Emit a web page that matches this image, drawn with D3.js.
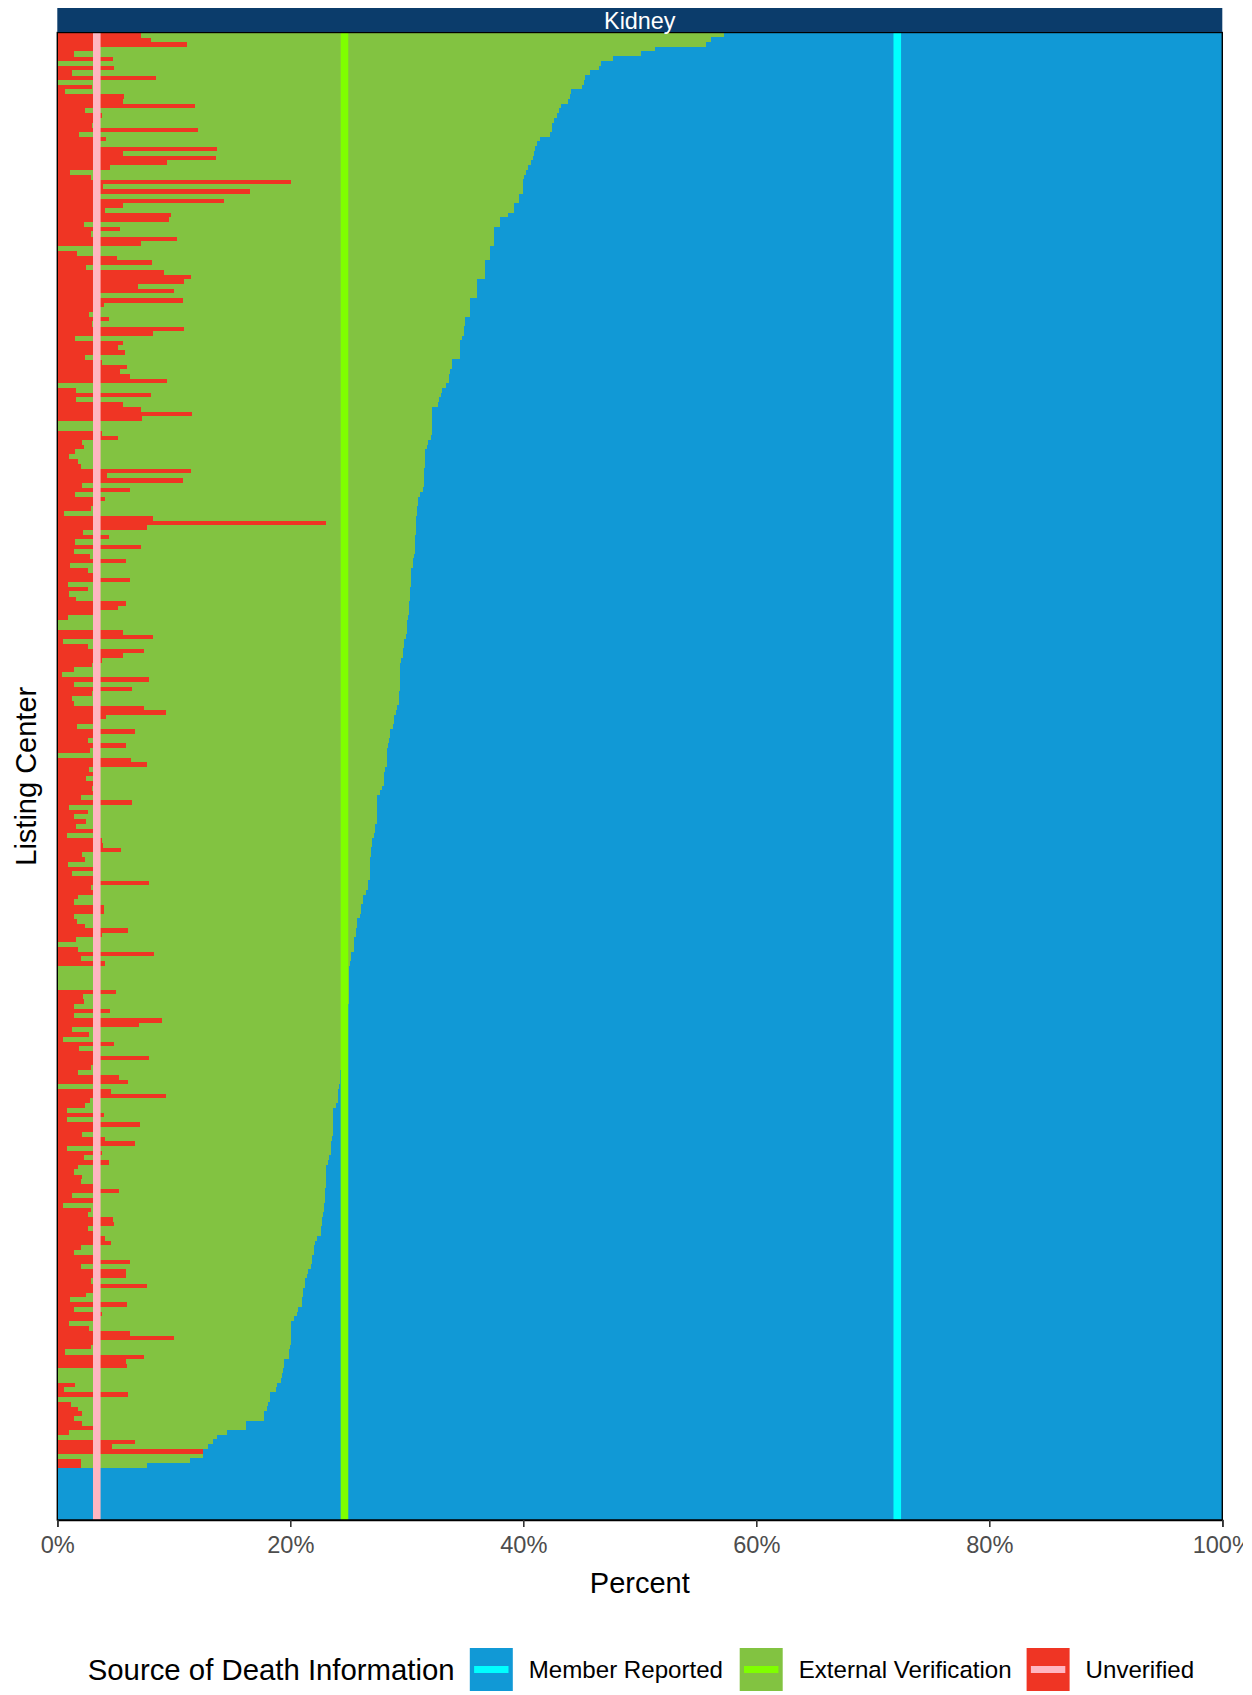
<!DOCTYPE html>
<html>
<head>
<meta charset="utf-8">
<script src="https://cdn.jsdelivr.net/npm/d3@7"></script>
<style>
  body { margin: 0; background: #ffffff; }
  svg text { font-family: "Liberation Sans", Arial, Helvetica, sans-serif; }
</style>
</head>
<body>
<svg id="chart" width="1252" height="1695"></svg>
<script>
// Source categories, fill colours and the colours of the overall reference lines
const sources = ["Member Reported", "External Verification", "Unverified"];
const sourceKeys = ["member", "external", "unverified"];
const fillColors = ["#1199D6", "#82C341", "#EF3524"];
const lineColors = ["#00FFFF", "#7FFF00", "#FFB6C1"];
// Overall share of each source across all centers (%)
const overallPct = [72.1, 24.65, 3.39];

// Per-center share of deaths that are unverified (%), centers ordered top to bottom
const unverifiedPct = [
  7.2, 8.0, 11.1, 3.2, 1.4, 4.8, 0, 4.9, 1.3, 8.5,
  0, 3.0, 0.7, 5.7, 5.6, 11.8, 2.4, 3.8, 3.3, 3.0,
  12.1, 1.9, 4.2, 3.2, 13.7, 5.6, 13.6, 9.4, 4.5, 1.1,
  2.9, 20.1, 3.9, 16.5, 3.7, 14.3, 5.6, 4.1, 9.8, 9.6,
  2.3, 5.4, 2.9, 10.3, 7.2, 0, 1.7, 5.1, 8.1, 2.5,
  9.2, 11.5, 10.9, 6.9, 10.0, 3.2, 10.8, 4.0, 3.3, 2.7,
  4.4, 3.0, 10.9, 8.2, 1.5, 5.6, 5.2, 5.8, 2.4, 3.8,
  6.0, 5.4, 6.2, 9.4, 0, 1.6, 8.0, 1.6, 5.6, 7.2,
  11.6, 7.3, 0, 0, 3.8, 5.2, 2.1, 2.3, 1.5, 1.0,
  1.8, 2.0, 11.5, 4.3, 10.8, 2.1, 6.2, 1.5, 4.1, 3.1,
  2.9, 0.6, 8.2, 23.1, 7.7, 2.2, 4.4, 1.5, 7.2, 1.4,
  2.8, 5.9, 1.1, 2.6, 3.1, 6.2, 0.9, 2.6, 1.0, 1.6,
  5.9, 5.2, 3.1, 0.9, 0, 0, 5.6, 8.2, 0.5, 2.6,
  7.4, 5.6, 3.8, 3.0, 1.4, 0.4, 7.9, 1.4, 6.4, 3.0,
  1.3, 1.4, 7.4, 9.3, 4.2, 3.2, 1.7, 6.7, 3.1, 2.6,
  5.9, 2.8, 0, 6.3, 7.7, 2.7, 3.1, 2.5, 3.2, 3.0,
  3.1, 2.0, 6.4, 1.0, 2.6, 1.4, 2.5, 1.6, 3.1, 0.8,
  3.8, 3.9, 5.5, 2.1, 2.4, 0.9, 3.1, 1.3, 3.1, 7.9,
  2.9, 3.1, 1.8, 1.4, 4.0, 4.0, 1.4, 1.7, 2.4, 6.1,
  3.8, 1.6, 0, 1.8, 8.3, 2.0, 4.1, 0, 0, 0,
  0, 0, 5.0, 2.2, 2.3, 1.4, 4.5, 1.4, 9.0, 7.0,
  1.3, 2.7, 0.5, 4.9, 1.9, 3.1, 7.9, 3.1, 2.9, 1.8,
  5.3, 6.1, 0, 4.6, 9.3, 2.8, 2.4, 0.8, 4.0, 0.8,
  7.1, 3.1, 2.1, 4.1, 6.7, 0.8, 3.8, 2.3, 4.4, 1.8,
  1.4, 2.1, 2.0, 3.1, 5.3, 1.3, 3.1, 0.5, 2.9, 2.6,
  4.8, 4.9, 2.6, 3.1, 4.1, 4.6, 2.0, 1.4, 3.1, 6.2,
  2.0, 5.9, 5.9, 2.9, 7.7, 3.1, 2.5, 1.1, 6.0, 1.4,
  3.8, 3.1, 1.0, 2.7, 6.2, 10.0, 3.1, 2.9, 0.7, 7.4,
  5.9, 6.0, 0, 0, 0, 1.5, 0.6, 6.1, 0, 1.2,
  1.8, 2.1, 1.4, 2.1, 3.1, 1.0, 0, 6.7, 4.7, 12.5,
  0, 2.0, 2.0, 0, 0, 0, 0, 0, 0, 0,
  0, 0, 0, 0
];

// Per-center share of deaths not reported by the member (unverified + external), %
const nonMemberPct = [
  57.2, 56.1, 55.7, 51.3, 50.1, 47.7, 46.7, 46.5, 45.7, 45.3,
  45.2, 45.0, 44.1, 44.0, 43.8, 43.2, 43.1, 42.9, 42.6, 42.5,
  42.5, 42.3, 41.4, 41.2, 41.0, 40.9, 40.8, 40.7, 40.4, 40.2,
  40.1, 40.0, 40.0, 40.0, 39.6, 39.6, 39.2, 39.2, 38.7, 38.0,
  38.0, 37.5, 37.5, 37.5, 37.5, 37.1, 37.1, 37.1, 36.7, 36.7,
  36.7, 36.7, 36.0, 36.0, 36.0, 36.0, 35.4, 35.4, 35.4, 35.4,
  35.0, 35.0, 34.9, 34.9, 34.7, 34.6, 34.6, 34.6, 34.6, 33.9,
  33.9, 33.7, 33.6, 33.6, 33.4, 33.0, 32.9, 32.8, 32.7, 32.2,
  32.2, 32.2, 32.2, 32.2, 32.2, 32.1, 31.8, 31.7, 31.6, 31.6,
  31.6, 31.6, 31.5, 31.5, 31.5, 31.5, 31.4, 31.1, 31.0, 31.0,
  30.9, 30.9, 30.8, 30.8, 30.8, 30.8, 30.7, 30.7, 30.7, 30.7,
  30.6, 30.5, 30.5, 30.4, 30.4, 30.4, 30.4, 30.3, 30.3, 30.3,
  30.2, 30.2, 30.2, 30.1, 30.0, 30.0, 30.0, 29.9, 29.8, 29.8,
  29.7, 29.7, 29.5, 29.4, 29.4, 29.4, 29.4, 29.4, 29.4, 29.3,
  29.3, 29.3, 29.2, 29.1, 28.9, 28.9, 28.8, 28.6, 28.6, 28.5,
  28.4, 28.3, 28.3, 28.3, 28.3, 28.1, 28.0, 28.0, 28.0, 27.9,
  27.7, 27.4, 27.4, 27.4, 27.4, 27.4, 27.4, 27.3, 27.3, 27.2,
  27.0, 27.0, 26.9, 26.9, 26.8, 26.8, 26.8, 26.8, 26.8, 26.7,
  26.7, 26.5, 26.2, 26.2, 26.1, 26.1, 26.0, 25.7, 25.7, 25.6,
  25.6, 25.5, 25.5, 25.5, 25.2, 25.2, 25.1, 25.0, 25.0, 25.0,
  25.0, 25.0, 25.0, 25.0, 25.0, 24.95, 24.95, 24.95, 24.95, 24.95,
  24.95, 24.9, 24.9, 24.8, 24.8, 24.8, 24.8, 24.7, 24.7, 24.3,
  24.3, 24.3, 24.2, 24.1, 24.1, 24.1, 23.9, 23.7, 23.7, 23.7,
  23.7, 23.7, 23.7, 23.6, 23.5, 23.5, 23.5, 23.3, 23.2, 23.1,
  23.1, 23.1, 23.1, 23.1, 23.0, 23.0, 23.0, 22.9, 22.9, 22.8,
  22.7, 22.7, 22.6, 22.6, 22.3, 22.1, 22.0, 22.0, 21.9, 21.9,
  21.8, 21.5, 21.4, 21.3, 21.3, 21.1, 21.1, 21.0, 21.0, 20.7,
  20.6, 20.3, 20.1, 20.1, 20.1, 20.1, 20.1, 20.0, 19.9, 19.9,
  19.5, 19.5, 19.4, 19.3, 19.2, 18.9, 18.8, 18.3, 18.3, 18.1,
  18.0, 17.7, 17.7, 16.2, 16.2, 14.6, 13.7, 13.4, 12.9, 12.5,
  12.5, 11.4, 7.7, 0, 0, 0, 0, 0, 0, 0,
  0, 0, 0, 0
];

const xTicks = [0, 20, 40, 60, 80, 100];
const panelTitle = "Kidney";
const xTitle = "Percent";
const yTitle = "Listing Center";
const legendTitle = "Source of Death Information";

// Build one record per listing center
const centers = unverifiedPct.map((_, i) => "Center " + (i + 1));
const rows = centers.map((c, i) => ({
  center: c,
  unverified: unverifiedPct[i],
  external: nonMemberPct[i] - unverifiedPct[i],
  member: 100 - nonMemberPct[i]
}));

const svg = d3.select("#chart");
const panel = { left: 57.3, right: 1222.3, top: 32.5, bottom: 1520 };

// The drawing area ends a few pixels short of the page's right edge
svg.append("defs").append("clipPath").attr("id", "page-clip")
  .append("rect").attr("x", 0).attr("y", 0).attr("width", 1243).attr("height", 1695);

const x = d3.scaleLinear().domain([0, 100]).range([panel.left, panel.right]);
const y = d3.scaleBand().domain(centers).range([panel.top, panel.bottom]).padding(0);
const color = d3.scaleOrdinal().domain(sourceKeys).range(fillColors);
const lineColor = d3.scaleOrdinal().domain(sourceKeys).range(lineColors);

// Stacked 100% bars: unverified from 0, then external verification, then member reported
const stack = d3.stack().keys(["unverified", "external", "member"]);
const series = stack(rows);

const barG = svg.append("g").attr("shape-rendering", "crispEdges");
barG.selectAll("g")
  .data(series)
  .join("g")
  .attr("fill", s => color(s.key))
  .selectAll("rect")
  .data(s => s.filter(d => d[1] - d[0] > 0))
  .join("rect")
  .attr("x", d => x(d[0]))
  .attr("width", d => x(d[1]) - x(d[0]))
  .attr("y", d => y(d.data.center))
  .attr("height", y.bandwidth() + 0.4);

// Overall reference lines for each source
svg.append("g")
  .selectAll("line")
  .data(sourceKeys.map((k, i) => ({ key: k, value: overallPct[i] })))
  .join("line")
  .attr("x1", d => x(d.value))
  .attr("x2", d => x(d.value))
  .attr("y1", panel.top)
  .attr("y2", panel.bottom)
  .attr("stroke", d => lineColor(d.key))
  .attr("stroke-width", 7.6);

// Panel border
svg.append("rect")
  .attr("x", panel.left)
  .attr("y", panel.top)
  .attr("width", panel.right - panel.left)
  .attr("height", panel.bottom - panel.top)
  .attr("fill", "none")
  .attr("stroke", "#000000")
  .attr("stroke-width", 1.4);

// Facet strip
svg.append("rect")
  .attr("x", panel.left)
  .attr("y", 8)
  .attr("width", panel.right - panel.left)
  .attr("height", 24)
  .attr("fill", "#0B3C6B");
svg.append("text")
  .attr("x", (panel.left + panel.right) / 2)
  .attr("y", 29)
  .attr("text-anchor", "middle")
  .attr("fill", "#ffffff")
  .attr("font-size", 23.4)
  .text(panelTitle);

// X axis
const xAxis = d3.axisBottom(x)
  .tickValues(xTicks)
  .tickFormat(d => d + "%")
  .tickSize(7)
  .tickPadding(9);
const axG = svg.append("g")
  .attr("clip-path", "url(#page-clip)")
  .append("g")
  .attr("transform", `translate(0,${panel.bottom})`)
  .call(xAxis);
axG.select(".domain").attr("stroke", "#000000").attr("stroke-width", 1.6);
axG.selectAll(".tick line").attr("stroke", "#333333").attr("stroke-width", 1.6);
axG.selectAll(".tick text")
  .attr("fill", "#4D4D4D")
  .attr("font-size", 23.6)
  .attr("font-family", "Liberation Sans, Arial, sans-serif");

// Axis titles
svg.append("text")
  .attr("x", (panel.left + panel.right) / 2)
  .attr("y", 1593)
  .attr("text-anchor", "middle")
  .attr("font-size", 29)
  .attr("fill", "#000000")
  .text(xTitle);
svg.append("text")
  .attr("transform", `translate(36,${(panel.top + panel.bottom) / 2}) rotate(-90)`)
  .attr("text-anchor", "middle")
  .attr("font-size", 29)
  .attr("fill", "#000000")
  .text(yTitle);

// Legend
const legend = svg.append("g");
legend.append("text")
  .attr("x", 87.7)
  .attr("y", 1680)
  .attr("font-size", 29.35)
  .attr("fill", "#000000")
  .text(legendTitle);
const keyX = [469.8, 739.7, 1026.6];
const keySize = 43;
const items = legend.selectAll("g.item")
  .data(sourceKeys.map((k, i) => ({ key: k, label: sources[i], x: keyX[i] })))
  .join("g")
  .attr("class", "item")
  .attr("transform", d => `translate(${d.x},1648)`);
items.append("rect")
  .attr("width", keySize)
  .attr("height", keySize)
  .attr("fill", d => color(d.key));
items.append("line")
  .attr("x1", keySize * 0.1)
  .attr("x2", keySize * 0.9)
  .attr("y1", keySize / 2)
  .attr("y2", keySize / 2)
  .attr("stroke", d => lineColor(d.key))
  .attr("stroke-width", 7);
items.append("text")
  .attr("x", keySize + 16)
  .attr("y", 30)
  .attr("font-size", 24.1)
  .attr("fill", "#000000")
  .text(d => d.label);
</script>
</body>
</html>
